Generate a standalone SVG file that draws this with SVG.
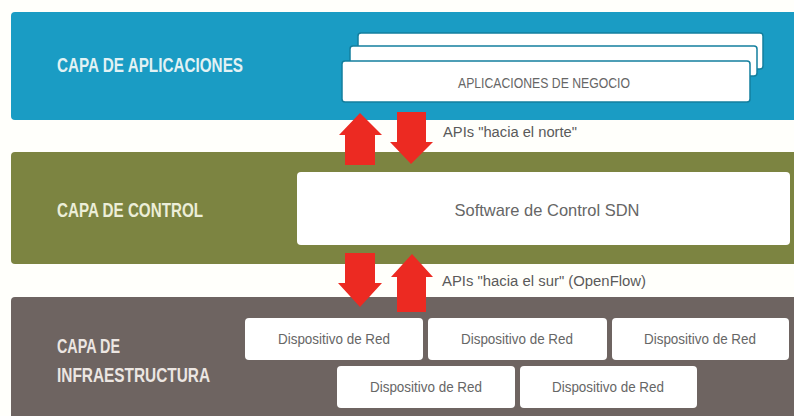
<svg xmlns="http://www.w3.org/2000/svg" width="794" height="416" viewBox="0 0 794 416">
<style>
.layer-label{font-family:"Liberation Sans",Arial,sans-serif;font-weight:bold;font-size:20px}
.box{fill:#ffffff}
.box-text{font-family:"Liberation Sans",Arial,sans-serif;font-size:15px;fill:#666666}
.api{font-family:"Liberation Sans",Arial,sans-serif;font-size:14px;fill:#5a5a5a}
.arrow{fill:#ec2a22}
</style>
<rect x="0" y="0" width="794" height="416" fill="#fffffb"/>
<g id="capa-aplicaciones">
<rect x="11" y="12" width="800" height="108" rx="4" fill="#1a9cc4"/>
<text class="layer-label" x="57" y="72" fill="#e2f2f4" textLength="186" lengthAdjust="spacingAndGlyphs">CAPA DE APLICACIONES</text>
</g>
<g id="aplicaciones-negocio">
<rect x="358" y="33" width="405" height="36" rx="3" fill="#ffffff" stroke="#137f9e" stroke-width="1.5"/>
<rect x="350" y="46" width="407" height="30" rx="3" fill="#ffffff" stroke="#137f9e" stroke-width="1.5"/>
<rect x="342" y="61" width="408" height="41" rx="3" fill="#ffffff" stroke="#137f9e" stroke-width="1.5"/>
<text class="box-text" x="544" y="88" text-anchor="middle" fill="#555555" textLength="172" lengthAdjust="spacingAndGlyphs">APLICACIONES DE NEGOCIO</text>
</g>
<g id="capa-control">
<rect x="11" y="152" width="800" height="112" rx="4" fill="#7c8441"/>
<text class="layer-label" x="57" y="217" fill="#eceed8" textLength="146" lengthAdjust="spacingAndGlyphs">CAPA DE CONTROL</text>
</g>
<g id="software-control">
<rect class="box" x="297" y="172" width="493" height="73" rx="4"/>
<text x="547" y="216" text-anchor="middle" font-family="Liberation Sans, Arial, sans-serif" font-size="17" fill="#666666" textLength="185" lengthAdjust="spacingAndGlyphs">Software de Control SDN</text>
</g>
<g id="capa-infraestructura">
<rect x="11" y="297" width="800" height="130" rx="4" fill="#6e6461"/>
<text class="layer-label" x="57" y="353" fill="#ece6e2" textLength="63" lengthAdjust="spacingAndGlyphs">CAPA DE</text>
<text class="layer-label" x="57" y="382" fill="#ece6e2" textLength="153" lengthAdjust="spacingAndGlyphs">INFRAESTRUCTURA</text>
</g>
<g id="dispositivo-1">
<rect class="box" x="245" y="318" width="178" height="42" rx="4"/>
<text class="box-text" x="334" y="344" text-anchor="middle" textLength="112" lengthAdjust="spacingAndGlyphs">Dispositivo de Red</text>
</g>
<g id="dispositivo-2">
<rect class="box" x="428" y="318" width="179" height="42" rx="4"/>
<text class="box-text" x="517" y="344" text-anchor="middle" textLength="112" lengthAdjust="spacingAndGlyphs">Dispositivo de Red</text>
</g>
<g id="dispositivo-3">
<rect class="box" x="612" y="318" width="177" height="42" rx="4"/>
<text class="box-text" x="700" y="344" text-anchor="middle" textLength="112" lengthAdjust="spacingAndGlyphs">Dispositivo de Red</text>
</g>
<g id="dispositivo-4">
<rect class="box" x="337" y="366" width="178" height="42" rx="4"/>
<text class="box-text" x="426" y="392" text-anchor="middle" textLength="112" lengthAdjust="spacingAndGlyphs">Dispositivo de Red</text>
</g>
<g id="dispositivo-5">
<rect class="box" x="520" y="366" width="177" height="42" rx="4"/>
<text class="box-text" x="608" y="392" text-anchor="middle" textLength="112" lengthAdjust="spacingAndGlyphs">Dispositivo de Red</text>
</g>
<g id="connectors">
<polygon class="arrow" points="360,113 382,135 375,135 375,165 345,165 345,135 339,135"/>
<polygon class="arrow" points="397,112 426,112 426,142 433,142 411,164 390,142 397,142"/>
<polygon class="arrow" points="345,253 375,253 375,283 382,283 360,307 338,283 345,283"/>
<polygon class="arrow" points="412,254 433,277 426,277 426,312 397,312 397,277 391,277"/>
<text class="api" x="443" y="137" textLength="134" lengthAdjust="spacingAndGlyphs">APIs "hacia el norte"</text>
<text class="api" x="442" y="286" textLength="204" lengthAdjust="spacingAndGlyphs">APIs "hacia el sur" (OpenFlow)</text>
</g>
</svg>
